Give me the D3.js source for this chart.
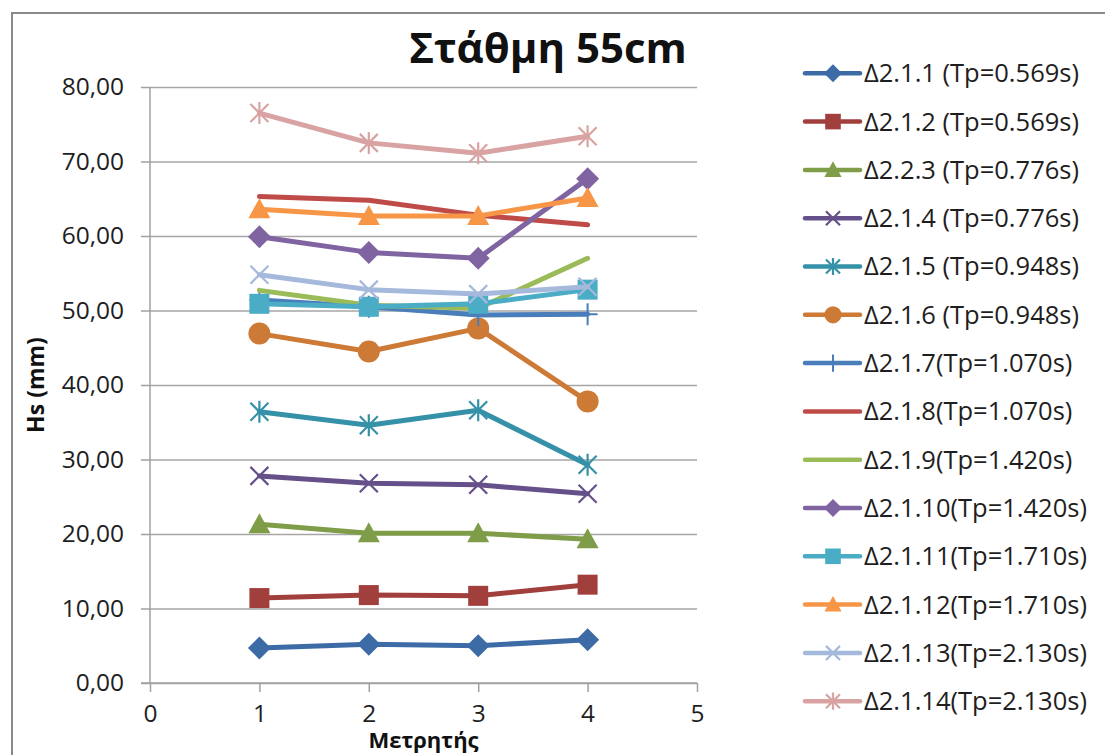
<!DOCTYPE html>
<html>
<head>
<meta charset="utf-8">
<script src="https://cdn.jsdelivr.net/npm/d3@7"></script>
<style>
  html, body { margin: 0; padding: 0; background: #fff; }
  svg { display: block; font-family: "Open Sans", "Noto Sans", sans-serif; }
</style>
</head>
<body>
<svg id="chart" width="1105" height="755"></svg>
<script>
// Station readings (Μετρητής 1-4) of significant wave height Hs in mm
const stations = [1, 2, 3, 4];
const xTickValues = [0, 1, 2, 3, 4, 5];
const yTickValues = [0, 10, 20, 30, 40, 50, 60, 70, 80];

const seriesLabels = [
  "Δ2.1.1 (Tp=0.569s)", "Δ2.1.2 (Tp=0.569s)", "Δ2.2.3 (Tp=0.776s)", "Δ2.1.4 (Tp=0.776s)",
  "Δ2.1.5 (Tp=0.948s)", "Δ2.1.6 (Tp=0.948s)", "Δ2.1.7(Tp=1.070s)", "Δ2.1.8(Tp=1.070s)",
  "Δ2.1.9(Tp=1.420s)", "Δ2.1.10(Tp=1.420s)", "Δ2.1.11(Tp=1.710s)", "Δ2.1.12(Tp=1.710s)",
  "Δ2.1.13(Tp=2.130s)", "Δ2.1.14(Tp=2.130s)"
];

const hs_2_1_1  = [4.7, 5.2, 5.0, 5.8];
const hs_2_1_2  = [11.4, 11.8, 11.7, 13.2];
const hs_2_2_3  = [21.3, 20.1, 20.1, 19.3];
const hs_2_1_4  = [27.8, 26.8, 26.6, 25.4];
const hs_2_1_5  = [36.4, 34.6, 36.6, 29.3];
const hs_2_1_6  = [46.9, 44.5, 47.6, 37.8];
const hs_2_1_7  = [51.4, 50.5, 49.4, 49.5];
const hs_2_1_8  = [65.3, 64.8, 62.8, 61.5];
const hs_2_1_9  = [52.7, 50.7, 50.3, 57.0];
const hs_2_1_10 = [59.9, 57.8, 57.0, 67.7];
const hs_2_1_11 = [50.9, 50.5, 50.9, 52.8];
const hs_2_1_12 = [63.6, 62.7, 62.7, 65.1];
const hs_2_1_13 = [54.8, 52.8, 52.2, 53.2];
const hs_2_1_14 = [76.5, 72.5, 71.1, 73.4];

const seriesValues = [hs_2_1_1, hs_2_1_2, hs_2_2_3, hs_2_1_4, hs_2_1_5, hs_2_1_6, hs_2_1_7,
  hs_2_1_8, hs_2_1_9, hs_2_1_10, hs_2_1_11, hs_2_1_12, hs_2_1_13, hs_2_1_14];

const seriesColors = ["#3D6BA5", "#A03F3C", "#7F9D48", "#66508A", "#3591A8", "#CC7A35", "#4A7EBB",
  "#BE4B48", "#9BBB59", "#8064A2", "#4BACC6", "#F79646", "#A5B9DC", "#D8A3A2"];
const seriesMarkers = ["diamond", "square", "triangle", "x", "star", "circle", "plus",
  "none", "none", "diamond", "square", "triangle", "x", "star"];

const svg = d3.select("#chart");

// outer chart frame
svg.append("rect")
  .attr("x", 12).attr("y", 13).attr("width", 1130).attr("height", 780)
  .attr("fill", "#fff").attr("stroke", "#8a8a8a").attr("stroke-width", 2);

const x = d3.scaleLinear().domain([0, 5]).range([150, 697]);
const y = d3.scaleLinear().domain([0, 80]).range([683, 87]);

const locale = d3.formatLocale({ decimal: ",", thousands: ".", grouping: [3], currency: ["", "€"] });
const yFmt = locale.format(".2f");

// horizontal gridlines
svg.append("g")
  .attr("transform", `translate(${x(0)},0)`)
  .call(d3.axisLeft(y).tickValues(yTickValues).tickSize(-(x(5) - x(0))).tickFormat(""))
  .call(g => g.select(".domain").remove())
  .call(g => g.selectAll("line").attr("stroke", "#a6a6a6").attr("stroke-width", 1.5));

// y axis
svg.append("g")
  .attr("transform", `translate(${x(0)},0)`)
  .call(d3.axisLeft(y).tickValues(yTickValues).tickSize(9).tickPadding(17).tickFormat(yFmt))
  .call(g => g.select(".domain").attr("stroke", "#a0a0a0").attr("stroke-width", 1.5)
    .attr("d", `M0,${y(0) + 0.5}V${y(80)}`))
  .call(g => g.selectAll(".tick line").attr("stroke", "#a0a0a0").attr("stroke-width", 1.5))
  .call(g => g.selectAll("text").attr("font-size", 24.5).attr("fill", "#1e1e1e")
    .attr("font-family", "Open Sans"));

// x axis
svg.append("g")
  .attr("transform", `translate(0,${y(0)})`)
  .call(d3.axisBottom(x).tickValues(xTickValues).tickSize(9).tickPadding(13).tickFormat(d3.format("d")))
  .call(g => g.select(".domain").attr("stroke", "#a0a0a0").attr("stroke-width", 1.5)
    .attr("d", `M${x(0) - 9},0H${x(5)}`))
  .call(g => g.selectAll(".tick line").attr("stroke", "#a0a0a0").attr("stroke-width", 1.5))
  .call(g => g.selectAll("text").attr("font-size", 24.5).attr("fill", "#1e1e1e")
    .attr("font-family", "Open Sans"));

// axis titles and chart title
svg.append("text")
  .attr("transform", `translate(44,${(y(0) + y(80)) / 2}) rotate(-90)`)
  .attr("text-anchor", "middle").attr("font-weight", "bold").attr("font-size", 23)
  .attr("fill", "#111").text("Hs (mm)");

svg.append("text")
  .attr("x", (x(0) + x(5)) / 2).attr("y", 748)
  .attr("text-anchor", "middle").attr("font-weight", "bold").attr("font-size", 22)
  .attr("fill", "#111").text("Μετρητής");

svg.append("text")
  .attr("x", 548).attr("y", 63)
  .attr("text-anchor", "middle").attr("font-weight", "bold").attr("font-size", 42)
  .attr("fill", "#111").text("Στάθμη 55cm");

// marker drawing
function drawMarker(g, type, color, s) {
  const r = 11.5 * s;
  switch (type) {
    case "diamond":
      g.append("path").attr("d", `M0,${-r}L${r},0L0,${r}L${-r},0Z`).attr("fill", color);
      break;
    case "square":
      g.append("rect").attr("x", -10 * s).attr("y", -10 * s).attr("width", 20 * s).attr("height", 20 * s)
        .attr("fill", color);
      break;
    case "triangle":
      g.append("path").attr("d", `M0,${-11 * s}L${11 * s},${9 * s}L${-11 * s},${9 * s}Z`).attr("fill", color);
      break;
    case "circle":
      g.append("circle").attr("r", 11 * s).attr("fill", color);
      break;
    case "x":
      g.append("path").attr("d", `M${-9 * s},${-9 * s}L${9 * s},${9 * s}M${9 * s},${-9 * s}L${-9 * s},${9 * s}`)
        .attr("stroke", color).attr("stroke-width", 2.2).attr("fill", "none");
      break;
    case "star":
      g.append("path").attr("d", `M${-9 * s},${-9 * s}L${9 * s},${9 * s}M${9 * s},${-9 * s}L${-9 * s},${9 * s}M0,${-11 * s}V${11 * s}`)
        .attr("stroke", color).attr("stroke-width", 2.2).attr("fill", "none");
      break;
    case "plus":
      g.append("path").attr("d", `M${-10 * s},0H${10 * s}M0,${-11 * s}V${11 * s}`)
        .attr("stroke", color).attr("stroke-width", 2).attr("fill", "none");
      break;
  }
}

// series lines and markers
const line = d3.line().x((d, i) => x(stations[i])).y(d => y(d));
seriesValues.forEach((vals, k) => {
  const g = svg.append("g").attr("class", "series");
  g.append("path").attr("d", line(vals)).attr("fill", "none")
    .attr("stroke", seriesColors[k]).attr("stroke-width", 5)
    .attr("stroke-linejoin", "round").attr("stroke-linecap", "round");
  vals.forEach((v, i) => {
    const m = g.append("g").attr("transform", `translate(${x(stations[i])},${y(v)})`);
    drawMarker(m, seriesMarkers[k], seriesColors[k], 1);
  });
});

// legend
const legend = svg.append("g");
seriesLabels.forEach((label, k) => {
  const ly = 73.3 + k * 48.3;
  const item = legend.append("g").attr("transform", `translate(0,${ly})`);
  item.append("line").attr("x1", 805).attr("x2", 860).attr("y1", 0).attr("y2", 0)
    .attr("stroke", seriesColors[k]).attr("stroke-width", 4.5).attr("stroke-linecap", "round");
  const m = item.append("g").attr("transform", "translate(833,0)");
  drawMarker(m, seriesMarkers[k], seriesColors[k], 0.78);
  item.append("text").attr("x", 864).attr("y", 0).attr("dy", "0.35em")
    .attr("font-size", 25.5).attr("fill", "#1e1e1e").text(label);
});
</script>
</body>
</html>
